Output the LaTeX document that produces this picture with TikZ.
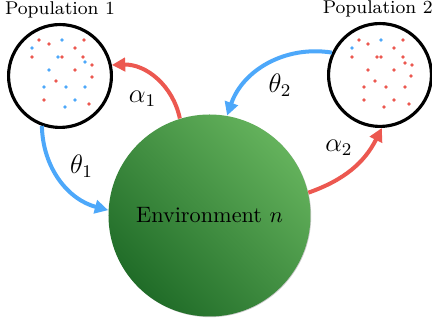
\documentclass[tikz,border=0pt]{standalone}
\usepackage{xcolor}
\usepackage{tikz}
\usetikzlibrary{arrows.meta,positioning,shapes.geometric,calc,backgrounds,shadows}

\definecolor{alphared}{RGB}{236,88,80}
\definecolor{thetablue}{RGB}{77,168,250}
\definecolor{envlight}{RGB}{100,178,92}
\definecolor{envdark}{RGB}{32,108,40}

\begin{document}
\begin{tikzpicture}[x=0.449pt, y=0.449pt, pop/.style={circle, draw=black, line width=1.4pt, minimum size=46.2pt, inner sep=0pt, fill=white}, env/.style={circle, minimum size=90.7pt, inner sep=0pt, shading=axis, top color=envlight, bottom color=envdark, shading angle=-45, drop shadow={shadow xshift=0.3pt, shadow yshift=-0.3pt, opacity=0.3, fill=black!70}}, poplabel/.style={font=\fontsize{8.3}{10}\selectfont, inner sep=0pt}, rate/.style={font=\fontsize{11.5}{13}\selectfont, inner sep=2pt}, redarr/.style={-{Triangle[length=6pt,width=6pt]}, line width=1.8pt, draw=alphared}, bluearr/.style={-{Triangle[length=6pt,width=6pt]}, line width=1.8pt, draw=thetablue}]
\useasboundingbox (0,0) rectangle (432,325);
\node[env] (env) at (209.5,109.5) {Environment $n$};
\node[pop] (pop1) at (60,249) {};
\node[pop] (pop2) at (380,250) {};
\node[poplabel, above=2.2pt of pop1] (pop1label) {Population 1};
\node[poplabel, above=2.2pt of pop2, xshift=-1pt] (pop2label) {Population 2};
% individuals in each population
\begin{scope}[shift={(pop1.center)}]
\foreach \x/\y in {-21/36,-11/32,24/36,15/28,-28/19,2/19,23/19,32/11,15/6,32/-1,-4/-5,-16/-24,29/-28}
  \fill[alphared] (\x,\y) circle[radius=0.8pt];
\foreach \x/\y in {2/36,-28/28,-2/19,25/14,-11/6,-16/-11,6/-11,25/-11,15/-24,5/-31}
  \fill[thetablue] (\x,\y) circle[radius=0.8pt];
\end{scope}
\begin{scope}[shift={(pop2.center)}]
\foreach \x/\y in {-21/35,-12/31,23/35,14/27,-28/18,-3/18,1/18,23/18,25/12,32/10,-12/5,14/5,31/-1,-5/-6,-16/-12,6/-12,25/-12,-16/-25,14/-25,4/-32,29/-29}
  \fill[alphared] (\x,\y) circle[radius=0.8pt];
\foreach \x/\y in {1/35,-28/27}
  \fill[thetablue] (\x,\y) circle[radius=0.8pt];
\end{scope}
% migration arrows
\draw[redarr] (env.107) to[bend right=40] node[auto, rate, pos=0.4]{$\alpha_1$} (pop1.12);
\draw[bluearr] (pop2.155) to[bend right=40] node[auto, rate, pos=0.55]{$\theta_2$} (env.80);
\draw[bluearr] (pop1.250) to[bend right=37] node[auto, rate, pos=0.55]{$\theta_1$} (env.177);
\draw[redarr] (env.13) to[bend right=22] node[auto, rate, pos=0.6]{$\alpha_2$} (pop2.272);
\end{tikzpicture}
\end{document}
